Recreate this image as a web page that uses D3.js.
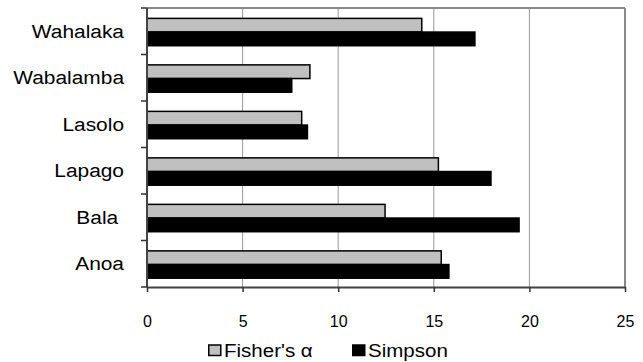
<!DOCTYPE html>
<html><head><meta charset="utf-8">
<script src="https://cdn.jsdelivr.net/npm/d3@7"></script>
<style>body{margin:0;background:#fff}text{font-family:"Liberation Sans",Arial,sans-serif;fill:#000}</style>
</head><body>
<script>
const categories = ["Wahalaka","Wabalamba","Lasolo","Lapago","Bala ","Anoa"];
const fisher = [14.37, 8.52, 8.09, 15.24, 12.45, 15.39];
const simpson = [17.15, 7.57, 8.39, 17.99, 19.46, 15.79];
const seriesNames = ["Fisher's α","Simpson"];
const xTicks = [0,5,10,15,20,25];

const W=643,H=362;
const m={l:147,r:18,t:8,b:75};
const svg=d3.select("body").append("svg").attr("width",W).attr("height",H);
const x=d3.scaleLinear().domain([0,25]).range([m.l,W-m.r]);
const y=d3.scaleBand().domain(categories).range([m.t,H-m.b]);
const inner=d3.scaleBand().domain(seriesNames).range([0,y.bandwidth()]).paddingOuter(0.7).paddingInner(0);

// gridlines
svg.append("g").selectAll("line").data(xTicks.slice(1)).join("line")
 .attr("x1",d=>x(d)).attr("x2",d=>x(d)).attr("y1",m.t).attr("y2",H-m.b)
 .attr("stroke",d=>d===25?"#888":"#999").attr("stroke-width",d=>d===25?2:1);
svg.append("line").attr("x1",m.l).attr("x2",x(25)).attr("y1",m.t).attr("y2",m.t).attr("stroke","#888").attr("stroke-width",2);

const data=categories.map((c,i)=>({c,v:[fisher[i],simpson[i]]}));
const g=svg.append("g");
data.forEach(d=>{
  seriesNames.forEach((s,j)=>{
    g.append("rect").attr("x",x(0)).attr("y",y(d.c)+inner(s)+0.8)
     .attr("width",x(d.v[j])-x(0)).attr("height",inner.bandwidth())
     .attr("fill",j===0?"#c0c0c0":"#000").attr("stroke","#000").attr("stroke-width",1.5);
  });
});

// x axis
const xa=svg.append("g").attr("transform",`translate(0,${H-m.b})`)
 .call(d3.axisBottom(x).tickValues(xTicks).tickSize(5).tickSizeOuter(0).tickPadding(24));
xa.select(".domain").attr("stroke","#444").attr("stroke-width",2);
xa.selectAll(".tick line").attr("stroke","#333").attr("stroke-width",1.5);
xa.selectAll("text").attr("font-size",16).style("font-family","Liberation Sans, Arial, sans-serif");

// y axis
const yb=d3.range(categories.length+1).map(i=>m.t+i*y.step());
svg.append("line").attr("x1",m.l).attr("x2",m.l).attr("y1",m.t).attr("y2",H-m.b).attr("stroke","#444").attr("stroke-width",2);
svg.append("g").selectAll("line").data(yb).join("line")
 .attr("x1",m.l-6).attr("x2",m.l).attr("y1",d=>d).attr("y2",d=>d).attr("stroke","#333").attr("stroke-width",1.5);
svg.append("g").selectAll("g").data(categories).join("g")
 .attr("transform",d=>`translate(${m.l-23},${y(d)+y.bandwidth()/2}) scale(1.1,1)`)
 .append("text").attr("dy","0.35em")
 .attr("text-anchor","end").attr("font-size",19).style("white-space","pre").text(d=>d);

// legend
const leg=svg.append("g");
const lx=[208,352];
seriesNames.forEach((s,j)=>{
  leg.append("rect").attr("x",lx[j]+0.75).attr("y",345).attr("width",12).attr("height",10.5)
   .attr("fill",j===0?"#c0c0c0":"#000").attr("stroke","#000").attr("stroke-width",1.5);
  leg.append("g").attr("transform",`translate(${lx[j]+16},357) scale(1.08,1)`)
   .append("text").attr("font-size",19).text(s);
});
</script>
</body></html>
